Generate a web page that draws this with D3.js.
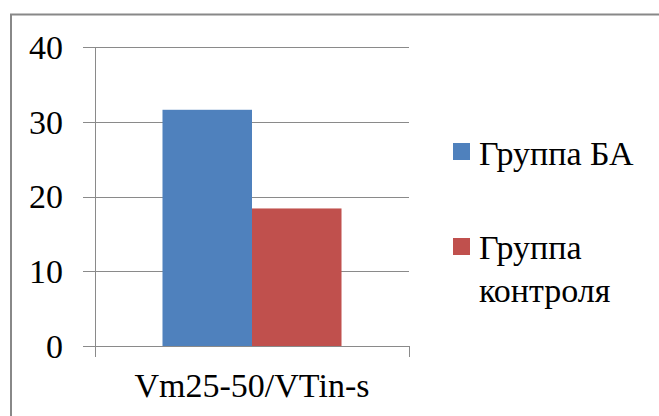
<!DOCTYPE html>
<html>
<head>
<meta charset="utf-8">
<script src="https://cdn.jsdelivr.net/npm/d3@7"></script>
</head>
<body style="margin:0">
<svg id="fig" width="659" height="416" style="display:block"></svg>
<script>
const categories = ["Vm25-50/VTin-s"];
const seriesNames = ["Группа БА", "Группа контроля"];
const seriesValues = [[31.6], [18.4]];
const seriesColors = ["#4F81BD", "#C0504D"];
const yTicks = [0, 10, 20, 30, 40];
const legendLines = [["Группа БА"], ["Группа", "контроля"]];

const FONT = "Times New Roman";
const svg = d3.select("#fig");
const fontSize = 34;
const gridColor = "#8a8a8a";

// outer frame (extends beyond right/bottom edges)
svg.append("rect")
  .attr("x", 11).attr("y", 14.5)
  .attr("width", 700).attr("height", 500)
  .attr("fill", "none").attr("stroke", "#888").attr("stroke-width", 2);

const plot = { left: 95, right: 409, top: 47, bottom: 346 };

const y = d3.scaleLinear().domain([0, 40]).range([plot.bottom, plot.top]);
const x0 = d3.scaleBand().domain(categories).range([plot.left, plot.right])
  .paddingInner(0).paddingOuter(0.377);
const x1 = d3.scaleBand().domain(seriesNames).range([0, x0.bandwidth()]).padding(0);

// gridlines (through the library's axis, labels drawn separately)
const yAxis = d3.axisLeft(y).tickValues(yTicks)
  .tickSize(-(plot.right - plot.left) - 12).tickFormat("");
const gy = svg.append("g").attr("transform", `translate(${plot.left - 12},0)`).call(yAxis);
gy.select(".domain").remove();
gy.selectAll(".tick line").attr("stroke", gridColor).attr("stroke-width", 1)
  .attr("shape-rendering", "crispEdges");

// y tick labels
yTicks.forEach(v => {
  svg.append("text")
    .attr("x", 63).attr("y", y(v)).attr("dy", "0.35em")
    .attr("text-anchor", "end")
    .attr("font-family", FONT).attr("font-size", fontSize)
    .text(String(v));
});

// bars
const cat = svg.append("g").selectAll("g").data(categories).join("g")
  .attr("transform", d => `translate(${x0(d)},0)`);
seriesNames.forEach((s, si) => {
  cat.append("rect")
    .attr("x", x1(s))
    .attr("y", (d, i) => y(seriesValues[si][i]))
    .attr("width", x1.bandwidth())
    .attr("height", (d, i) => y(0) - y(seriesValues[si][i]))
    .attr("fill", seriesColors[si]);
});

// y axis line
svg.append("line")
  .attr("x1", plot.left).attr("x2", plot.left)
  .attr("y1", plot.top).attr("y2", plot.bottom + 11)
  .attr("stroke", gridColor).attr("shape-rendering", "crispEdges");

// x axis baseline with end ticks
const xAxis = d3.axisBottom(x0).tickSize(0).tickSizeOuter(11).tickFormat("");
const gx = svg.append("g").attr("transform", `translate(0,${plot.bottom})`).call(xAxis);
gx.select(".domain").attr("stroke", gridColor).attr("shape-rendering", "crispEdges");

// category labels
categories.forEach(c => {
  svg.append("text")
    .attr("x", x0(c) + x0.bandwidth() / 2).attr("y", 397)
    .attr("text-anchor", "middle")
    .attr("font-family", FONT).attr("font-size", fontSize)
    .text(c);
});

// legend
const legendItems = [
  { sq: 143, base: 165 },
  { sq: 238, base: 259 }
];
legendItems.forEach((li, i) => {
  svg.append("rect").attr("x", 453).attr("y", li.sq)
    .attr("width", 17).attr("height", 17).attr("fill", seriesColors[i]);
  legendLines[i].forEach((ln, k) => {
    svg.append("text").attr("x", 479).attr("y", li.base + k * 43)
      .attr("font-family", FONT).attr("font-size", fontSize)
      .text(ln);
  });
});
</script>
</body>
</html>
